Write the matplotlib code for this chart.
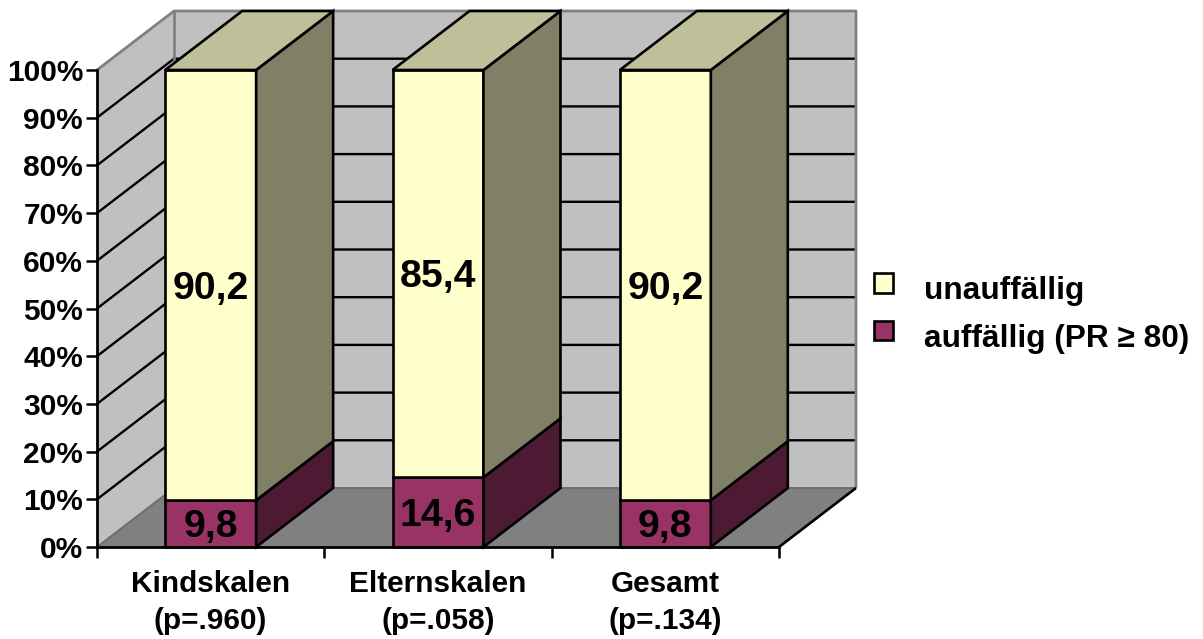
import matplotlib
matplotlib.use("Agg")
import matplotlib.pyplot as plt
from matplotlib.patches import Polygon, Patch, Rectangle
from matplotlib.legend_handler import HandlerPatch

categories = ["Kindskalen\n(p=.960)", "Elternskalen\n(p=.058)", "Gesamt\n(p=.134)"]
auffaellig = [9.8, 14.6, 9.8]
unauffaellig = [90.2, 85.4, 90.2]
auffaellig_labels = ["9,8", "14,6", "9,8"]
unauffaellig_labels = ["90,2", "85,4", "90,2"]
y_ticks = list(range(0, 101, 10))
legend_labels = ["unauffällig", "auffällig (PR ≥ 80)"]

YELLOW, YELLOW_TOP, YELLOW_SIDE = "#FFFFCC", "#BFBF99", "#808066"
MAROON, MAROON_SIDE = "#993366", "#4C1A33"
WALL, FLOOR, EDGE = "#C0C0C0", "#808080", "#808080"
BAR_W = 0.4
DX, DY = 77 / 227.33, 59 / 4.77   # oblique depth offset in data units

plt.rcParams["font.family"] = ["Liberation Sans", "DejaVu Sans"]
plt.rcParams["font.weight"] = "bold"

W, H = 1203, 639
fig = plt.figure(figsize=(W / 100, H / 100), dpi=100, facecolor="white")
ax = fig.add_axes([97 / W, 1 - 547 / H, 682 / W, 477 / H], facecolor="none")
ax.set_xlim(0, 3)
ax.set_ylim(0, 100)


def poly(points, face, z, edge="black", lw=1.9):
    ax.add_patch(Polygon(points, closed=True, facecolor=face, edgecolor=edge,
                         linewidth=lw, zorder=z, clip_on=False, joinstyle="miter"))


def line(xs, ys, z, color="black", lw=1.7):
    ax.plot(xs, ys, color=color, lw=lw, zorder=z, clip_on=False, solid_capstyle="butt")


def value_label(x, y, text):
    ax.annotate(text, (x, y), xytext=(0, -2.6), textcoords="offset points",
                ha="center", va="center", fontsize=28.3, zorder=10)


# walls and floor of the 3D box
poly([(0, 0), (DX, DY), (DX, 100 + DY), (0, 100)], WALL, 1, edge="none")
poly([(DX, DY), (3 + DX, DY), (3 + DX, 100 + DY), (DX, 100 + DY)], WALL, 1, edge="none")
poly([(0, 0), (3, 0), (3 + DX, DY), (DX, DY)], FLOOR, 1.2, edge="none")

# gridlines run across the side wall and the back wall
for v in y_ticks[1:-1]:
    line([0, DX, 3 + DX], [v, v + DY, v + DY], 1.5)

# grey wall outlines
line([0, DX, 3 + DX, 3 + DX], [100, 100 + DY, 100 + DY, DY], 1.6, color=EDGE, lw=2)
line([DX, DX], [DY, 100 + DY], 1.6, color=EDGE, lw=2)
line([0, DX, 3 + DX], [0, DY, DY], 1.6, color="#6E6E6E", lw=1.4)
line([3, 3 + DX], [0, DY], 1.7, lw=1.9)

# stacked 3D bars, drawn as front, side and top faces
for i, (low, high) in enumerate(zip(auffaellig, unauffaellig)):
    x0 = i + 0.5 - BAR_W / 2
    x1 = x0 + BAR_W
    top = low + high
    z = 3 + i
    poly([(x0, 0), (x1, 0), (x1, low), (x0, low)], MAROON, z)
    poly([(x0, low), (x1, low), (x1, top), (x0, top)], YELLOW, z)
    poly([(x1, 0), (x1 + DX, DY), (x1 + DX, low + DY), (x1, low)], MAROON_SIDE, z)
    poly([(x1, low), (x1 + DX, low + DY), (x1 + DX, top + DY), (x1, top)], YELLOW_SIDE, z)
    poly([(x0, top), (x1, top), (x1 + DX, top + DY), (x0 + DX, top + DY)], YELLOW_TOP, z)
    value_label(i + 0.5, low / 2, auffaellig_labels[i])
    value_label(i + 0.5, low + high / 2, unauffaellig_labels[i])

# axes
for side in ("top", "right"):
    ax.spines[side].set_visible(False)
for side in ("left", "bottom"):
    ax.spines[side].set_linewidth(2)
    ax.spines[side].set_zorder(12)
ax.set_yticks(y_ticks)
ax.set_yticklabels([f"{v}%" for v in y_ticks], fontsize=21.5)
ax.set_xticks([0, 1, 2, 3])
ax.set_xticklabels([])
ax.set_xticks([0.5, 1.5, 2.5], minor=True)
ax.set_xticklabels(categories, minor=True, fontsize=21.4, linespacing=1.42)
ax.tick_params(axis="both", which="major", length=8, width=1.8, pad=2, zorder=12)
ax.tick_params(axis="x", which="minor", length=0, pad=16.5)


def raised_square(legend, orig_handle, xdescent, ydescent, width, height, fontsize):
    return Rectangle((0, 5), width, width)


handles = [Patch(facecolor=YELLOW, edgecolor="black", linewidth=1.9),
           Patch(facecolor=MAROON, edgecolor="black", linewidth=1.9)]
fig.legend(handles, legend_labels, loc="upper left",
           bbox_to_anchor=(864 / W, 1 - 267 / H), frameon=False, fontsize=22.8,
           handlelength=0.626, handleheight=0.626, handletextpad=0.98, labelspacing=0.565,
           borderpad=0.3, borderaxespad=0,
           handler_map={Patch: HandlerPatch(patch_func=raised_square)})

fig.savefig("out.png", dpi=100, facecolor="white")
